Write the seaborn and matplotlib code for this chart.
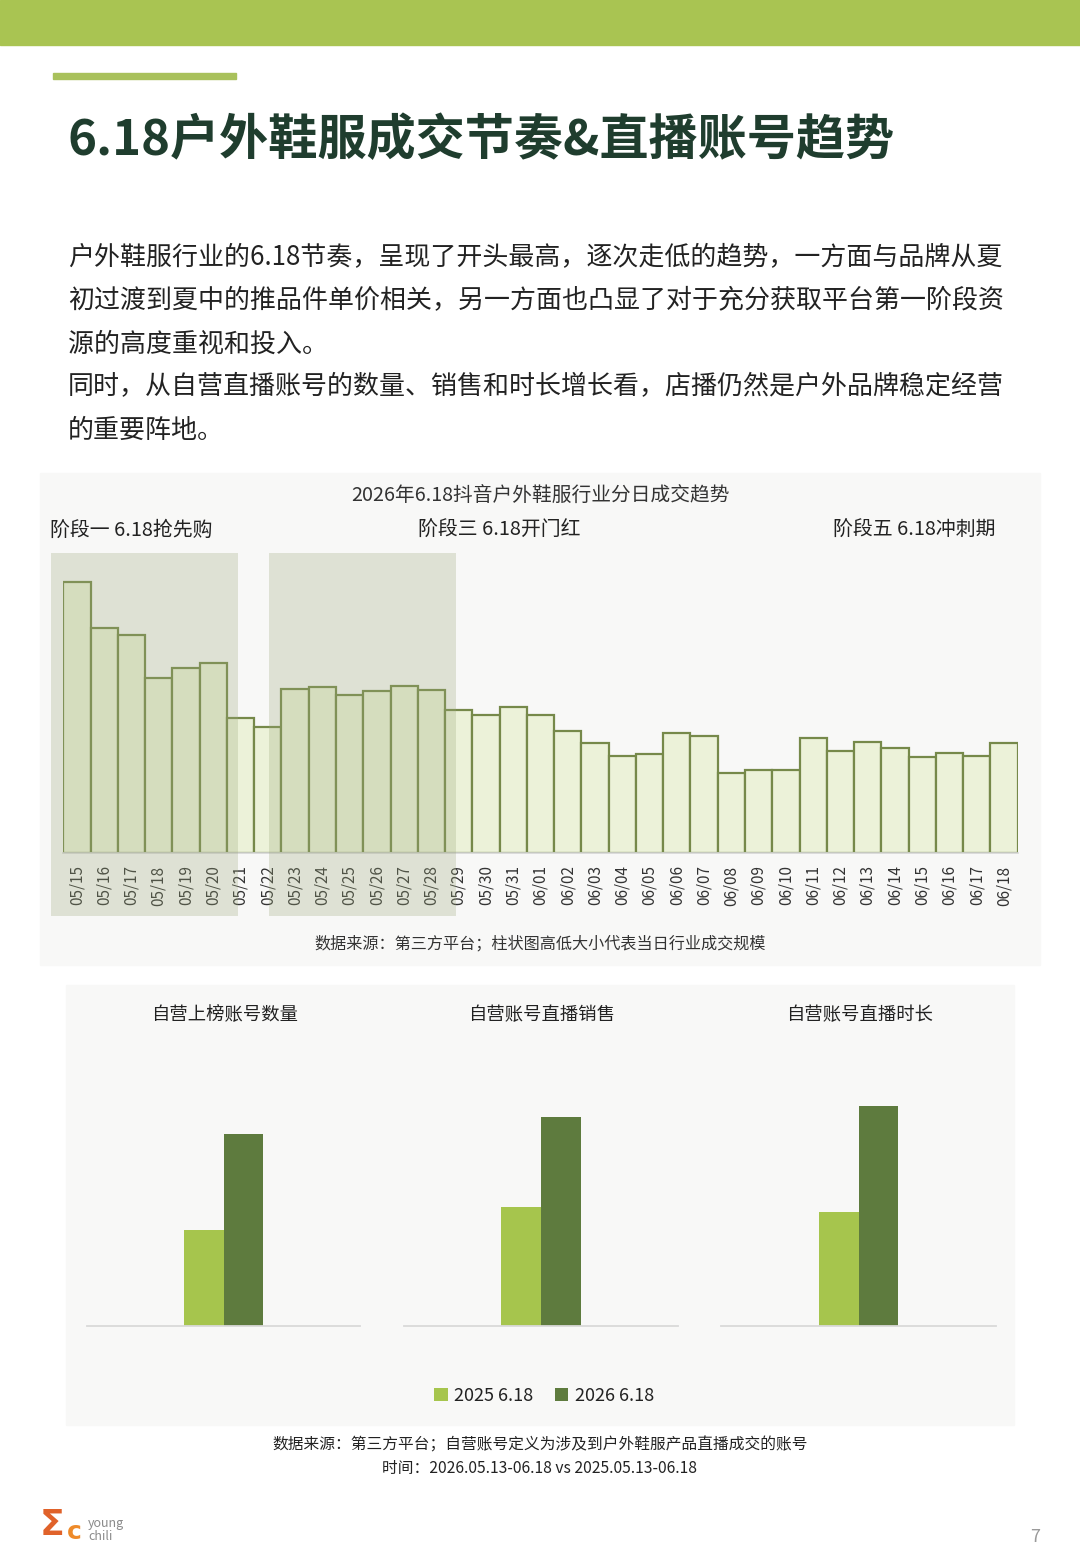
import matplotlib
matplotlib.use("Agg")
import matplotlib.pyplot as plt
from matplotlib.patches import Rectangle, Patch
from matplotlib.transforms import blended_transform_factory
import seaborn as sns
import pandas as pd

# ---------------- data ----------------
dates = ["05/15", "05/16", "05/17", "05/18", "05/19", "05/20", "05/21", "05/22",
         "05/23", "05/24", "05/25", "05/26", "05/27", "05/28", "05/29", "05/30",
         "05/31", "06/01", "06/02", "06/03", "06/04", "06/05", "06/06", "06/07",
         "06/08", "06/09", "06/10", "06/11", "06/12", "06/13", "06/14", "06/15",
         "06/16", "06/17", "06/18"]
daily_gmv = [271, 225, 218, 175, 185, 190, 135, 126,
             164, 166, 158, 162, 167, 163, 143, 138,
             146, 138, 122, 110, 97, 99, 120, 117,
             80, 83, 83, 115, 102, 111, 105, 96,
             100, 97, 110]
stage_labels = ["阶段一 6.18抢先购", "阶段三 6.18开门红", "阶段五 6.18冲刺期"]
shaded_stages = [(0, 5), (8, 13)]  # index ranges of highlighted stages

metric_titles = ["自营上榜账号数量", "自营账号直播销售", "自营账号直播时长"]
values_2025 = [96, 119, 114]
values_2026 = [192, 209, 220]
series_labels = ["2025 6.18", "2026 6.18"]

page_title = "6.18户外鞋服成交节奏&直播账号趋势"
body_lines = [
    "户外鞋服行业的6.18节奏，呈现了开头最高，逐次走低的趋势，一方面与品牌从夏",
    "初过渡到夏中的推品件单价相关，另一方面也凸显了对于充分获取平台第一阶段资",
    "源的高度重视和投入。",
    "同时，从自营直播账号的数量、销售和时长增长看，店播仍然是户外品牌稳定经营",
    "的重要阵地。",
]
chart1_title = "2026年6.18抖音户外鞋服行业分日成交趋势"
chart1_note = "数据来源：第三方平台；柱状图高低大小代表当日行业成交规模"
chart2_notes = ["数据来源：第三方平台；自营账号定义为涉及到户外鞋服产品直播成交的账号",
                "时间：2026.05.13-06.18 vs 2025.05.13-06.18"]

# ---------------- style ----------------
sns.set_theme(style="white")
plt.rcParams["font.family"] = ["Noto Sans CJK SC", "DejaVu Sans"]

W, H = 1080, 1560
fig = plt.figure(figsize=(W / 100, H / 100), dpi=100)
fig.patch.set_facecolor("white")


def fx(x):
    return x / W


def fy(y):
    return 1 - y / H


def add_axes_px(left, top, right, bottom):
    ax = fig.add_axes([fx(left), fy(bottom), (right - left) / W, (bottom - top) / H])
    ax.set_zorder(2)
    return ax


# header bar and accent line
fig.patches.append(Rectangle((0, fy(45)), 1, 45 / H, transform=fig.transFigure,
                             color="#A9C452", zorder=-10))
fig.patches.append(Rectangle((fx(53), fy(79)), (236 - 53) / W, 6 / H,
                             transform=fig.transFigure, color="#A9C15C", zorder=-10))

# light panels behind charts
fig.patches.append(Rectangle((fx(40), fy(965)), 1000 / W, 492 / H,
                             transform=fig.transFigure, color="#F8F8F7", zorder=-10))
fig.patches.append(Rectangle((fx(66), fy(1425)), 948 / W, 440 / H,
                             transform=fig.transFigure, color="#F8F8F7", zorder=-10))

# title and body
fig.text(fx(68), fy(141), page_title, fontsize=35.4, fontweight="bold",
         color="#1F3D2E", va="center", ha="left")
for i, line in enumerate(body_lines):
    fig.text(fx(68), fy(258 + 43 * i), line, fontsize=18.7, color="#222222",
             va="center", ha="left")

# ---------------- chart 1: daily GMV ----------------
ax1 = add_axes_px(63.3, 553, 1017.7, 853)
ax1.set_facecolor("none")
df_daily = pd.DataFrame({"date": dates, "gmv": daily_gmv})
sns.barplot(data=df_daily, x="date", y="gmv", color="#ECF2D9", saturation=1,
            edgecolor="#76894A", linewidth=1.6, width=1.0, ax=ax1)
ax1.set_xlim(-0.5, len(dates) - 0.5)
ax1.set_ylim(0, 300)
ax1.set_xlabel("")
ax1.set_ylabel("")
ax1.set_yticks([])
for s in ["top", "right", "left"]:
    ax1.spines[s].set_visible(False)
ax1.spines["bottom"].set_color("#D6D6D6")
ax1.spines["bottom"].set_linewidth(1.2)
ax1.tick_params(axis="x", rotation=90, labelsize=11, length=0, pad=9,
                labelcolor="#333333")

trans = blended_transform_factory(ax1.transData, fig.transFigure)
for a, b in shaded_stages:
    x0, x1 = a - 0.95, b + 0.9
    ax1.add_patch(Rectangle((x0, fy(916)), x1 - x0, (916 - 553) / H, transform=trans,
                            facecolor="#9CA87A", alpha=0.28, edgecolor="none",
                            clip_on=False, zorder=5))

fig.text(fx(540), fy(496), chart1_title, fontsize=14.2, color="#333333",
         ha="center", va="center")
for lab, x in zip(stage_labels, [50, 418, 833]):
    fig.text(fx(x), fy(530), lab, fontsize=14.3, color="#222222",
             ha="left", va="center")
fig.text(fx(540), fy(944), chart1_note, fontsize=11.6, color="#333333",
         ha="center", va="center")

# ---------------- chart 2: three metric comparisons ----------------
palette = ["#A6C54D", "#5E7B3E"]
axes_x = [(87, 360), (404, 678), (721, 996)]
for i, (title, v25, v26) in enumerate(zip(metric_titles, values_2025, values_2026)):
    l, r = axes_x[i]
    ax = add_axes_px(l, 1050, r, 1326)
    ax.set_facecolor("none")
    df = pd.DataFrame({"metric": [title, title], "value": [v25, v26],
                       "year": series_labels})
    sns.barplot(data=df, x="metric", y="value", hue="year", palette=palette,
                saturation=1, width=0.29, ax=ax, legend=False, linewidth=0)
    ax.set_xlim(-0.5, 0.5)
    ax.set_ylim(0, 276)
    ax.set_xticks([])
    ax.set_yticks([])
    ax.set_xlabel("")
    ax.set_ylabel("")
    for s in ["top", "right", "left"]:
        ax.spines[s].set_visible(False)
    ax.spines["bottom"].set_color("#D9D9D9")
    ax.spines["bottom"].set_linewidth(1.3)
    fig.text(fx((l + r) / 2 + 1), fy(1015), title, fontsize=13.2, color="#222222",
             ha="center", va="center")

handles = [Patch(facecolor=c, edgecolor="none", label=lab)
           for c, lab in zip(palette, series_labels)]
fig.legend(handles=handles, loc="center", bbox_to_anchor=(fx(544), fy(1396)),
           ncol=2, frameon=False, fontsize=13, handlelength=0.75, handleheight=0.75,
           handletextpad=0.35, columnspacing=1.2, labelcolor="#222222")

fig.text(fx(540), fy(1445), chart2_notes[0], fontsize=11.3, color="#222222",
         ha="center", va="center")
fig.text(fx(540), fy(1468), chart2_notes[1], fontsize=11.3, color="#222222",
         ha="center", va="center")

# logo and page number
fig.text(fx(40), fy(1525), "Σ", fontsize=26, fontweight="bold", color="#E0622A",
         ha="left", va="center", family="DejaVu Sans")
fig.text(fx(67), fy(1532), "c", fontsize=18, fontweight="bold", color="#EE8A2A",
         ha="left", va="center", family="DejaVu Sans")
fig.text(fx(88), fy(1524), "young", fontsize=9, color="#8A8A8A", ha="left", va="center")
fig.text(fx(88), fy(1537), "chili", fontsize=9, color="#8A8A8A", ha="left", va="center")
fig.text(fx(1035), fy(1537), "7", fontsize=13, color="#9A9A9A", ha="center", va="center")

fig.savefig("out.png", dpi=100, facecolor="white")
